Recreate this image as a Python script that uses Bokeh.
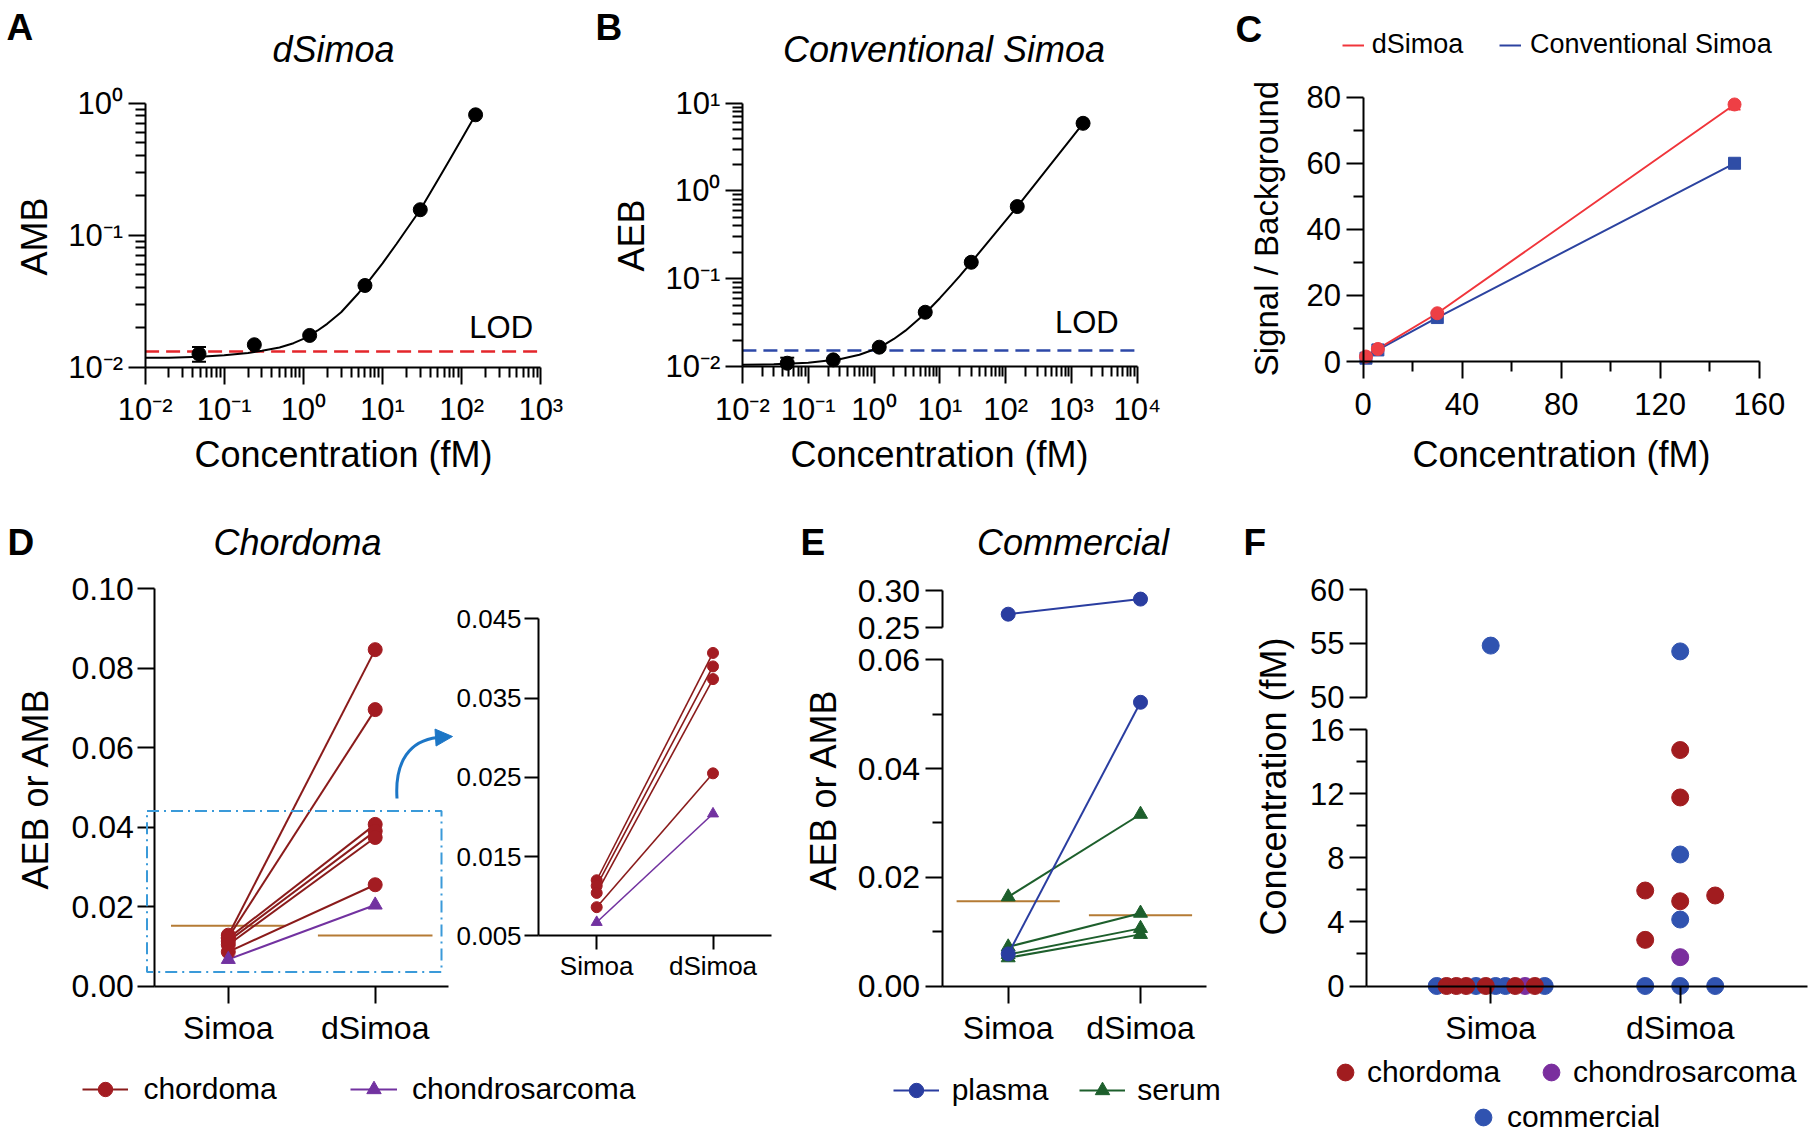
import math
from collections import defaultdict
from bokeh.plotting import figure
from bokeh.layouts import row, column
from bokeh.models import (Range1d, FixedTicker, Label, Whisker, TeeHead, ColumnDataSource,
                          LinearAxis, Legend, LegendItem, BoxAnnotation, Arrow, NormalHead,
                          NumeralTickFormatter)
from bokeh.embed import file_html
from bokeh.resources import INLINE

FONT = "Liberation Sans"

# ======================= DATA =======================
# A  dSimoa calibration (AMB vs concentration, fM)
a_conc = [0.048, 0.24, 1.2, 6.0, 30.0, 150.0]
a_amb = [0.0126, 0.0148, 0.0174, 0.0416, 0.156, 0.817]
a_err_conc = [0.048]
a_err_low = [0.0110]
a_err_high = [0.0142]
a_fit_conc = [0.01, 0.02, 0.05, 0.1, 0.2, 0.3, 0.5, 0.75, 1.0, 1.5, 2.0, 3.0, 5.0, 7.0,
              10.0, 15.0, 20.0, 30.0, 50.0, 70.0, 100.0, 150.0]
a_fit_amb = [0.0118, 0.0118, 0.0120, 0.0123, 0.0128, 0.0133, 0.0141, 0.0152, 0.0164, 0.0189,
             0.0213, 0.0261, 0.0365, 0.0465, 0.0612, 0.0858, 0.110, 0.156, 0.262, 0.370, 0.535, 0.817]
a_lod = 0.01315
a_xlim = [0.01, 1000]
a_ylim = [0.01, 1]

# B  conventional Simoa calibration (AEB)
b_conc = [0.048, 0.24, 1.2, 6.0, 30.0, 150.0, 1500.0]
b_aeb = [0.0109, 0.0119, 0.0166, 0.0415, 0.154, 0.664, 5.90]
b_err_conc = [0.048]
b_err_low = [0.0109]
b_err_high = [0.0126]
b_fit_conc = [0.01, 0.03, 0.1, 0.3, 0.6, 1.0, 1.5, 2.0, 3.0, 5.0, 7.0, 10.0, 15.0, 20.0,
              30.0, 50.0, 100.0, 150.0, 300.0, 500.0, 1000.0, 1500.0]
b_fit_aeb = [0.0105, 0.0106, 0.0110, 0.0121, 0.0136, 0.0156, 0.0181, 0.0206, 0.0256, 0.0356,
             0.0455, 0.0600, 0.0840, 0.107, 0.154, 0.245, 0.459, 0.664, 1.28, 2.07, 4.00, 5.90]
b_lod = 0.0152
b_xlim = [0.01, 10000]
b_ylim = [0.01, 10]

# C  signal / background
c_conc = [1.2, 6.0, 30.0, 150.0]
c_dsimoa_sb = [1.5, 3.8, 14.6, 77.8]
c_simoa_sb = [1.0, 3.5, 13.3, 60.0]
c_err_conc = [150.0]
c_err_low = [76.3]
c_err_high = [77.8]

# D  chordoma patients
methods = ["Simoa", "dSimoa"]
d_chordoma_simoa = [0.0128, 0.0122, 0.0120, 0.0113, 0.0104, 0.0086]
d_chordoma_dsimoa = [0.0847, 0.0696, 0.0407, 0.0390, 0.0374, 0.0255]
d_chondro_simoa = [0.0067]
d_chondro_dsimoa = [0.0204]
d_lod = [0.0152, 0.0127]          # LOD line for Simoa, dSimoa
d_zoom = [0.0035, 0.0441]         # y extent of the dashed zoom box
inset_ticks = [0.005, 0.015, 0.025, 0.035, 0.045]

# E  commercial samples
e_plasma_simoa = [0.268, 0.0059]
e_plasma_dsimoa = [0.2884, 0.0522]
e_serum_simoa = [0.0164, 0.0072, 0.0058, 0.0052]
e_serum_dsimoa = [0.0316, 0.0134, 0.0106, 0.0095]
e_lod = [0.0156, 0.0130]

# F  concentrations (fM)
f_simoa_group = ["commercial", "chordoma", "chordoma", "chordoma", "commercial", "chordoma",
                 "commercial", "commercial", "chordoma", "chondrosarcoma", "chordoma",
                 "commercial", "commercial"]
f_simoa_value = [0, 0, 0, 0, 0, 0, 0, 0, 0, 0, 0, 0, 54.8]
f_dsimoa_group = ["commercial", "commercial", "commercial", "chondrosarcoma", "chordoma",
                  "commercial", "chordoma", "chordoma", "chordoma", "commercial", "chordoma",
                  "chordoma", "commercial"]
f_dsimoa_value = [0, 0, 0, 1.80, 2.88, 4.15, 5.29, 5.96, 5.65, 8.21, 11.77, 14.73, 54.26]

# ======================= COLOURS =======================
RED_LOD = "#E4262B"
BLUE_LOD = "#2D48A8"
C_RED = "#F0353B"
C_RED_M = "#EE3F45"
C_BLUE = "#2C43A0"
C_BLUE_M = "#2F4DA6"
CHORD_L = "#8A1B1B"
CHORD_M = "#A31C22"
CHONDRO = "#7232A0"
BOX_C = "#3A9AD9"
ARROW_C = "#1C76C6"
LOD_BROWN = "#B57B35"
PLASMA = "#2A3DA0"
SERUM = "#1D5F2C"
F_COL = {"chordoma": "#A11C1F", "chondrosarcoma": "#7A2E9E", "commercial": "#3053B0"}

SUP = {0.01: "10\u207b\u00b2", 0.1: "10\u207b\u00b9", 1: "10\u2070", 10: "10\u00b9",
       100: "10\u00b2", 1000: "10\u00b3", 10000: "10\u2074"}


# ======================= HELPERS (layout only) =======================
def val_at(v0, s0, v1, s1, s):
    return v0 + (s - s0) * (v1 - v0) / (s1 - s0)


def rng_lin(v0, s0, v1, s1, c0, size, vertical=False):
    a, b = val_at(v0, s0, v1, s1, c0), val_at(v0, s0, v1, s1, c0 + size)
    return Range1d(b, a) if vertical else Range1d(a, b)


def rng_log(v0, s0, v1, s1, c0, size, vertical=False):
    l0, l1 = math.log10(v0), math.log10(v1)
    a, b = val_at(l0, s0, l1, s1, c0), val_at(l0, s0, l1, s1, c0 + size)
    return Range1d(10 ** b, 10 ** a) if vertical else Range1d(10 ** a, 10 ** b)


def make_fig(ox, oy, w, h, xr, yr, xt="linear", yt="linear"):
    p = figure(width=w, height=h, x_range=xr, y_range=yr, x_axis_type=xt, y_axis_type=yt,
               output_backend="svg", toolbar_location=None, min_border=0)
    p.grid.visible = False
    p.outline_line_color = None
    p.background_fill_color = "white"
    p.border_fill_color = "white"
    fr = dict(l=ox, t=oy, w=w, h=h)
    return p, fr


def style_axis(ax, size, tick_out=17, minor_out=10, standoff=6, width=2):
    ax.axis_line_width = width
    ax.axis_line_color = "black"
    ax.major_tick_line_width = width
    ax.minor_tick_line_width = width
    ax.major_tick_line_color = "black"
    ax.minor_tick_line_color = "black"
    ax.major_tick_in = 0
    ax.major_tick_out = tick_out
    ax.minor_tick_in = 0
    ax.minor_tick_out = minor_out
    ax.major_label_text_font = FONT
    ax.major_label_text_font_size = f"{size}px"
    ax.major_label_text_color = "black"
    ax.major_label_standoff = standoff


def txt(p, fr, X, Y, s, size, style="normal", align="left", angle=0.0, color="black"):
    # (X, Y): page position of the text's left/centre edge and vertical middle
    p.add_layout(Label(x=X - fr["l"], y=fr["t"] + fr["h"] - Y, x_units="screen", y_units="screen",
                       text=s, text_font=FONT, text_font_size=f"{size}px", text_font_style=style,
                       text_align=align, text_baseline="middle", angle=angle, text_color=color))


def leg(p, fr, label, renderers, X_left, Y_center, gw, gh, standoff, size):
    lg = Legend(items=[LegendItem(label=label, renderers=renderers)],
                location=(X_left - fr["l"], fr["t"] + fr["h"] - Y_center - gh / 2),
                orientation="horizontal", glyph_width=gw, glyph_height=gh, label_height=gh,
                label_standoff=standoff, padding=0, margin=0, spacing=0,
                border_line_alpha=0, background_fill_alpha=0,
                label_text_font=FONT, label_text_font_size=f"{size}px", label_text_color="black")
    p.add_layout(lg)


def log_minors(e0, e1):
    return [m * 10.0 ** e for e in range(e0, e1) for m in range(2, 10)]


def cat_ticks(ax, size, standoff=7, tick_out=17):
    ax.ticker = FixedTicker(ticks=[1, 2])
    ax.major_label_overrides = {1: methods[0], 2: methods[1]}
    style_axis(ax, size, tick_out=tick_out, standoff=standoff)


ROT = math.pi / 2

# ======================= PANEL A =======================
OXA, OYA, WA, HA = 0, 0, 590, 490
pA, frA = make_fig(OXA, OYA, WA, HA,
                   rng_log(a_xlim[0], 144.6, a_xlim[1], 540.3, OXA, WA),
                   rng_log(a_ylim[0], 366.7, a_ylim[1], 102.7, OYA, HA, vertical=True), "log", "log")
xa = pA.xaxis[0]
xa.ticker = FixedTicker(ticks=[0.01, 0.1, 1, 10, 100, 1000], minor_ticks=log_minors(-2, 3))
xa.major_label_overrides = {k: SUP[k] for k in [0.01, 0.1, 1, 10, 100, 1000]}
xa.fixed_location = a_ylim[0]
xa.bounds = tuple(a_xlim)
style_axis(xa, 31, standoff=8)
ya = pA.yaxis[0]
ya.ticker = FixedTicker(ticks=[0.01, 0.1, 1], minor_ticks=log_minors(-2, 0))
ya.major_label_overrides = {k: SUP[k] for k in [0.01, 0.1, 1]}
ya.fixed_location = a_xlim[0]
ya.bounds = tuple(a_ylim)
style_axis(ya, 31, standoff=5)
pA.segment(x0=[a_xlim[0]], y0=[a_lod], x1=[a_xlim[1]], y1=[a_lod], line_color=RED_LOD,
           line_dash="14 7", line_width=2.5)
pA.line(a_fit_conc, a_fit_amb, line_color="black", line_width=2)
pA.add_layout(Whisker(source=ColumnDataSource(dict(b=a_err_conc, lo=a_err_low, hi=a_err_high)),
                      base="b", lower="lo", upper="hi", dimension="height", line_width=2,
                      upper_head=TeeHead(size=14, line_width=2), lower_head=TeeHead(size=14, line_width=2)))
pA.scatter(a_conc, a_amb, marker="circle", size=14, color="black")
txt(pA, frA, 6, 27, "A", 37, style="bold")
txt(pA, frA, 333, 49, "dSimoa", 36, style="italic", align="center")
txt(pA, frA, 33.5, 236, "AMB", 36, align="center", angle=ROT)
txt(pA, frA, 343, 454, "Concentration (fM)", 36, align="center")
txt(pA, frA, 468.8, 327, "LOD", 31)

# ======================= PANEL B =======================
OXB, OYB, WB, HB = 590, 0, 610, 490
pB, frB = make_fig(OXB, OYB, WB, HB,
                   rng_log(b_xlim[0], 741.9, b_xlim[1], 1136.8, OXB, WB),
                   rng_log(b_ylim[0], 366.0, b_ylim[1], 102.7, OYB, HB, vertical=True), "log", "log")
xb = pB.xaxis[0]
xb.ticker = FixedTicker(ticks=[0.01, 0.1, 1, 10, 100, 1000, 10000], minor_ticks=log_minors(-2, 4))
xb.major_label_overrides = {k: SUP[k] for k in [0.01, 0.1, 1, 10, 100, 1000, 10000]}
xb.fixed_location = b_ylim[0]
xb.bounds = tuple(b_xlim)
style_axis(xb, 31, standoff=8)
yb = pB.yaxis[0]
yb.ticker = FixedTicker(ticks=[0.01, 0.1, 1, 10], minor_ticks=log_minors(-2, 1))
yb.major_label_overrides = {k: SUP[k] for k in [0.01, 0.1, 1, 10]}
yb.fixed_location = b_xlim[0]
yb.bounds = tuple(b_ylim)
style_axis(yb, 31, standoff=5)
pB.segment(x0=[b_xlim[0]], y0=[b_lod], x1=[b_xlim[1]], y1=[b_lod], line_color=BLUE_LOD,
           line_dash="14 7", line_width=2.5)
pB.line(b_fit_conc, b_fit_aeb, line_color="black", line_width=2)
pB.add_layout(Whisker(source=ColumnDataSource(dict(b=b_err_conc, lo=b_err_low, hi=b_err_high)),
                      base="b", lower="lo", upper="hi", dimension="height", line_width=2,
                      upper_head=TeeHead(size=14, line_width=2),
                      lower_head=TeeHead(size=0, line_alpha=0)))
pB.scatter(b_conc, b_aeb, marker="circle", size=14, color="black")
txt(pB, frB, 595, 27, "B", 37, style="bold")
txt(pB, frB, 943.5, 49, "Conventional Simoa", 36, style="italic", align="center")
txt(pB, frB, 630.6, 235, "AEB", 36, align="center", angle=ROT)
txt(pB, frB, 939, 454, "Concentration (fM)", 36, align="center")
txt(pB, frB, 1054.5, 322, "LOD", 31)

# ======================= PANEL C =======================
OXC, OYC, WC, HC = 1200, 0, 615, 490
pC, frC = make_fig(OXC, OYC, WC, HC,
                   rng_lin(0, 1362.5, 160, 1758.8, OXC, WC),
                   rng_lin(0, 361.0, 80, 96.7, OYC, HC, vertical=True))
xc = pC.xaxis[0]
xc.ticker = FixedTicker(ticks=[0, 40, 80, 120, 160], minor_ticks=[20, 60, 100, 140])
xc.formatter = NumeralTickFormatter(format="0")
xc.fixed_location = 0
xc.bounds = (0, 160)
style_axis(xc, 31, standoff=14)
yc = pC.yaxis[0]
yc.ticker = FixedTicker(ticks=[0, 20, 40, 60, 80], minor_ticks=[10, 30, 50, 70])
yc.formatter = NumeralTickFormatter(format="0")
yc.fixed_location = 0
yc.bounds = (0, 80)
style_axis(yc, 31, standoff=5)
rc_blue = pC.line(c_conc, c_simoa_sb, line_color=C_BLUE, line_width=2)
rc_red = pC.line(c_conc, c_dsimoa_sb, line_color=C_RED, line_width=2)
pC.scatter(c_conc, c_simoa_sb, marker="square", size=12, fill_color=C_BLUE_M, line_color=C_BLUE_M)
pC.add_layout(Whisker(source=ColumnDataSource(dict(b=c_err_conc, lo=c_err_low, hi=c_err_high)),
                      base="b", lower="lo", upper="hi", dimension="height", line_width=2,
                      line_color=C_RED,
                      lower_head=TeeHead(size=12, line_width=2, line_color=C_RED),
                      upper_head=TeeHead(size=0, line_alpha=0)))
pC.scatter(c_conc, c_dsimoa_sb, marker="circle", size=13, fill_color=C_RED_M, line_color=C_RED_M)
leg(pC, frC, "dSimoa", [rc_red], 1341.7, 44.5, 22, 36, 8, 27)
leg(pC, frC, "Conventional Simoa", [rc_blue], 1499, 44.5, 22, 36, 9, 27)
txt(pC, frC, 1235, 29, "C", 37, style="bold")
txt(pC, frC, 1266, 228, "Signal / Background", 33, align="center", angle=ROT)
txt(pC, frC, 1561, 454, "Concentration (fM)", 36, align="center")

# ======================= PANEL D (main + inset in one canvas) =======================
OXD, OYD, WD, HD = 0, 490, 790, 644
D_X1, D_X2, D_Y0, D_Y10 = 227.8, 374.7, 985.5, 588.4          # screen anchors main
I_X1, I_X2, I_Y005, I_Y045 = 596.2, 712.5, 935.2, 618.4        # screen anchors inset
pD, frD = make_fig(OXD, OYD, WD, HD,
                   rng_lin(1, D_X1, 2, D_X2, OXD, WD),
                   rng_lin(0, D_Y0, 0.10, D_Y10, OYD, HD, vertical=True))
pD.extra_x_ranges = {"ix": rng_lin(1, I_X1, 2, I_X2, OXD, WD)}
pD.extra_y_ranges = {"iy": rng_lin(inset_ticks[0], I_Y005, inset_ticks[-1], I_Y045, OYD, HD, vertical=True)}
xd = pD.xaxis[0]
cat_ticks(xd, 32)
xd.fixed_location = 0
xd.bounds = (0.5, 2.5)
yd = pD.yaxis[0]
yd.ticker = FixedTicker(ticks=[0, 0.02, 0.04, 0.06, 0.08, 0.10])
yd.formatter = NumeralTickFormatter(format="0.00")
yd.fixed_location = 0.5
yd.bounds = (0, 0.10)
style_axis(yd, 32, standoff=4)
xi = LinearAxis(x_range_name="ix", y_range_name="iy", fixed_location=inset_ticks[0], bounds=(0.5, 2.5))
cat_ticks(xi, 26, standoff=1, tick_out=14)
pD.add_layout(xi, "below")
yi = LinearAxis(x_range_name="ix", y_range_name="iy", fixed_location=0.5,
                bounds=(inset_ticks[0], inset_ticks[-1]), ticker=FixedTicker(ticks=inset_ticks),
                formatter=NumeralTickFormatter(format="0.000"))
style_axis(yi, 26, tick_out=14, standoff=3)
pD.add_layout(yi, "left")

LOD_HALF = 0.39
pD.segment(x0=[1 - LOD_HALF, 2 - LOD_HALF], y0=d_lod, x1=[1 + LOD_HALF, 2 + LOD_HALF], y1=d_lod,
           line_color=LOD_BROWN, line_width=2)
n_ch = len(d_chordoma_simoa)
rd_ch_l = pD.segment(x0=[1] * n_ch, y0=d_chordoma_simoa, x1=[2] * n_ch, y1=d_chordoma_dsimoa,
                     line_color=CHORD_L, line_width=2)
rd_co_l = pD.segment(x0=[1], y0=d_chondro_simoa, x1=[2], y1=d_chondro_dsimoa, line_color=CHONDRO,
                     line_width=2)
rd_ch_m = pD.scatter([1] * n_ch + [2] * n_ch, d_chordoma_simoa + d_chordoma_dsimoa, marker="circle",
                     size=14, fill_color=CHORD_M, line_color=CHORD_M)
rd_co_m = pD.scatter([1, 2], d_chondro_simoa + d_chondro_dsimoa, marker="triangle", size=14,
                     fill_color=CHONDRO, line_color=CHONDRO)

# inset: only pairs inside the zoomed range
keep = [i for i in range(n_ch) if d_chordoma_dsimoa[i] <= inset_ticks[-1]]
ins_s = [d_chordoma_simoa[i] for i in keep]
ins_d = [d_chordoma_dsimoa[i] for i in keep]
ik = dict(x_range_name="ix", y_range_name="iy")
pD.segment(x0=[1] * len(keep), y0=ins_s, x1=[2] * len(keep), y1=ins_d, line_color=CHORD_L,
           line_width=1.6, **ik)
pD.segment(x0=[1], y0=d_chondro_simoa, x1=[2], y1=d_chondro_dsimoa, line_color=CHONDRO,
           line_width=1.6, **ik)
pD.scatter([1] * len(keep) + [2] * len(keep), ins_s + ins_d, marker="circle", size=11,
           fill_color=CHORD_M, line_color=CHORD_M, **ik)
pD.scatter([1, 2], d_chondro_simoa + d_chondro_dsimoa, marker="triangle", size=11,
           fill_color=CHONDRO, line_color=CHONDRO, **ik)


# zoom box and curved arrow (decoration in panel-D screen space)
def dx(X):
    return val_at(1, D_X1, 2, D_X2, X)


def dy(Y):
    return val_at(0, D_Y0, 0.10, D_Y10, Y)


pD.add_layout(BoxAnnotation(left=dx(146.5), right=dx(441), bottom=d_zoom[0], top=d_zoom[1],
                            fill_alpha=0, line_color=BOX_C, line_alpha=1, line_width=2,
                            line_dash="12 5 2 5"))
pD.bezier(x0=[dx(396.5)], y0=[dy(798)], x1=[dx(437)], y1=[dy(737)],
          cx0=[dx(394)], cy0=[dy(760)], cx1=[dx(410)], cy1=[dy(740)],
          line_color=ARROW_C, line_width=3)
pD.add_layout(Arrow(end=NormalHead(size=17, fill_color=ARROW_C, line_color=ARROW_C),
                    x_start=dx(436), y_start=dy(737), x_end=dx(452), y_end=dy(736),
                    line_color=ARROW_C, line_width=3))
leg(pD, frD, "chordoma", [rd_ch_l, rd_ch_m], 82.4, 1089, 46, 36, 15, 30)
leg(pD, frD, "chondrosarcoma", [rd_co_l, rd_co_m], 350, 1089, 47, 36, 15, 30)
txt(pD, frD, 7, 542, "D", 37, style="bold")
txt(pD, frD, 297, 542.4, "Chordoma", 36, style="italic", align="center")
txt(pD, frD, 35, 788, "AEB or AMB", 36, align="center", angle=ROT)

# ======================= PANEL E (broken axis) =======================
OXE, OYE, WE, HE = 790, 490, 450, 644
E_X1, E_X2 = 1007.7, 1140.0
pE, frE = make_fig(OXE, OYE, WE, HE,
                   rng_lin(1, E_X1, 2, E_X2, OXE, WE),
                   rng_lin(0, 985.5, 0.06, 659.4, OYE, HE, vertical=True))
pE.extra_y_ranges = {"upper": rng_lin(0.25, 627.0, 0.30, 590.0, OYE, HE, vertical=True)}
xe = pE.xaxis[0]
cat_ticks(xe, 32)
xe.fixed_location = 0
xe.bounds = (0.5, 2.5)
ye = pE.yaxis[0]
ye.ticker = FixedTicker(ticks=[0, 0.02, 0.04, 0.06], minor_ticks=[0.01, 0.03, 0.05])
ye.formatter = NumeralTickFormatter(format="0.00")
ye.fixed_location = 0.5
ye.bounds = (0, 0.06)
style_axis(ye, 32, standoff=5)
ye_up = LinearAxis(y_range_name="upper", fixed_location=0.5, bounds=(0.25, 0.30),
                   ticker=FixedTicker(ticks=[0.25, 0.30]), formatter=NumeralTickFormatter(format="0.00"))
style_axis(ye_up, 32, standoff=5)
pE.add_layout(ye_up, "left")

pE.segment(x0=[1 - LOD_HALF, 2 - LOD_HALF], y0=e_lod, x1=[1 + LOD_HALF, 2 + LOD_HALF], y1=e_lod,
           line_color=LOD_BROWN, line_width=2)


def e_pairs(simoa, dsimoa, color, marker):
    out = None
    up = [i for i in range(len(simoa)) if simoa[i] >= 0.2]
    lo = [i for i in range(len(simoa)) if simoa[i] < 0.2]
    for idx, rng in ((lo, "default"), (up, "upper")):
        if not idx:
            continue
        s = [simoa[i] for i in idx]
        d = [dsimoa[i] for i in idx]
        rl = pE.segment(x0=[1] * len(idx), y0=s, x1=[2] * len(idx), y1=d, line_color=color,
                        line_width=2, y_range_name=rng)
        rm = pE.scatter([1] * len(idx) + [2] * len(idx), s + d, marker=marker, size=14,
                        fill_color=color, line_color=color, y_range_name=rng)
        if out is None:
            out = [rl, rm]
    return out


re_serum = e_pairs(e_serum_simoa, e_serum_dsimoa, SERUM, "triangle")
re_plasma = e_pairs(e_plasma_simoa, e_plasma_dsimoa, PLASMA, "circle")
leg(pE, frE, "plasma", re_plasma, 892.7, 1090, 46, 36, 13, 30)
leg(pE, frE, "serum", re_serum, 1079.3, 1090, 46, 36, 12, 30)
txt(pE, frE, 800, 542, "E", 37, style="bold")
txt(pE, frE, 1072.5, 542.4, "Commercial", 36, style="italic", align="center")
txt(pE, frE, 822.5, 789, "AEB or AMB", 36, align="center", angle=ROT)

# ======================= PANEL F (broken axis, swarm) =======================
OXF, OYF, WF, HF = 1240, 490, 575, 644
F_Y0, F_Y16, F_Y50, F_Y60 = 985.5, 729.2, 696.7, 589.2      # screen anchors of axis values
F_X1, F_X2, F_AX_X, F_RIGHT_X = 1490.2, 1679.7, 1366.0, 1806.7
F_PPX = F_X2 - F_X1
pF, frF = make_fig(OXF, OYF, WF, HF,
                   rng_lin(1, F_X1, 2, F_X2, OXF, WF),
                   rng_lin(0, F_Y0, 16, F_Y16, OYF, HF, vertical=True))
pF.extra_y_ranges = {"upper": rng_lin(50, F_Y50, 60, F_Y60, OYF, HF, vertical=True)}
f_left = val_at(1, F_X1, 2, F_X2, F_AX_X)
f_right = val_at(1, F_X1, 2, F_X2, F_RIGHT_X)
xf = pF.xaxis[0]
cat_ticks(xf, 32)
xf.fixed_location = 0
xf.bounds = (f_left, f_right)
yf = pF.yaxis[0]
yf.ticker = FixedTicker(ticks=[0, 4, 8, 12, 16], minor_ticks=[2, 6, 10, 14])
yf.formatter = NumeralTickFormatter(format="0")
yf.fixed_location = f_left
yf.bounds = (0, 16)
style_axis(yf, 31, standoff=5)
yf_up = LinearAxis(y_range_name="upper", fixed_location=f_left, bounds=(50, 60),
                   ticker=FixedTicker(ticks=[50, 55, 60]), formatter=NumeralTickFormatter(format="0"))
style_axis(yf_up, 31, standoff=5)
pF.add_layout(yf_up, "left")


def f_screen_y(v):
    if v >= 50:
        return F_Y50 - (v - 50) * (F_Y50 - F_Y60) / 10
    return F_Y0 - v * (F_Y0 - F_Y16) / 16


def swarm(values, tie_step=35.0, tie_width=108.0, cand=35.0, dist=17.5):
    offs = [None] * len(values)
    placed = []
    ties = defaultdict(list)
    for i, v in enumerate(values):
        ties[v].append(i)
    for v, idx in ties.items():
        k = len(idx)
        if k > 1:
            step = min(tie_step, tie_width / (k - 1))
            for j, i in enumerate(idx):
                offs[i] = (j - (k - 1) / 2) * step
                placed.append((offs[i], f_screen_y(v)))
    for i, v in enumerate(values):
        if offs[i] is not None:
            continue
        yp = f_screen_y(v)
        for c in (0.0, -cand, cand, -2 * cand, 2 * cand):
            if all((c - px) ** 2 + (yp - py) ** 2 >= dist ** 2 for px, py in placed):
                offs[i] = c
                placed.append((c, yp))
                break
    return offs


f_pts = defaultdict(lambda: {"default": ([], []), "upper": ([], [])})
for cat, groups, vals in ((1, f_simoa_group, f_simoa_value), (2, f_dsimoa_group, f_dsimoa_value)):
    offs = swarm(vals)
    for g, v, o in zip(groups, vals, offs):
        rng = "upper" if v >= 50 else "default"
        f_pts[g][rng][0].append(cat + o / F_PPX)
        f_pts[g][rng][1].append(v)

f_rend = {}
for g in ("commercial", "chondrosarcoma", "chordoma"):
    for rng in ("default", "upper"):
        xs, ys = f_pts[g][rng]
        if xs:
            r = pF.scatter(xs, ys, marker="circle", size=17, fill_color=F_COL[g], line_color=F_COL[g],
                           y_range_name=rng)
            f_rend.setdefault(g, r)
leg(pF, frF, "chordoma", [f_rend["chordoma"]], 1323.9, 1072, 42, 42, 1, 30)
leg(pF, frF, "chondrosarcoma", [f_rend["chondrosarcoma"]], 1530, 1072, 42, 42, 1, 30)
leg(pF, frF, "commercial", [f_rend["commercial"]], 1461.9, 1116.5, 42, 42, 3, 30)
txt(pF, frF, 1243, 542, "F", 37, style="bold")
txt(pF, frF, 1273, 786, "Concentration (fM)", 36, align="center", angle=ROT)

# ======================= LAYOUT =======================
layout = column(row(pA, pB, pC), row(pD, pE, pF))

open("out.html", "w").write(file_html(layout, INLINE))
